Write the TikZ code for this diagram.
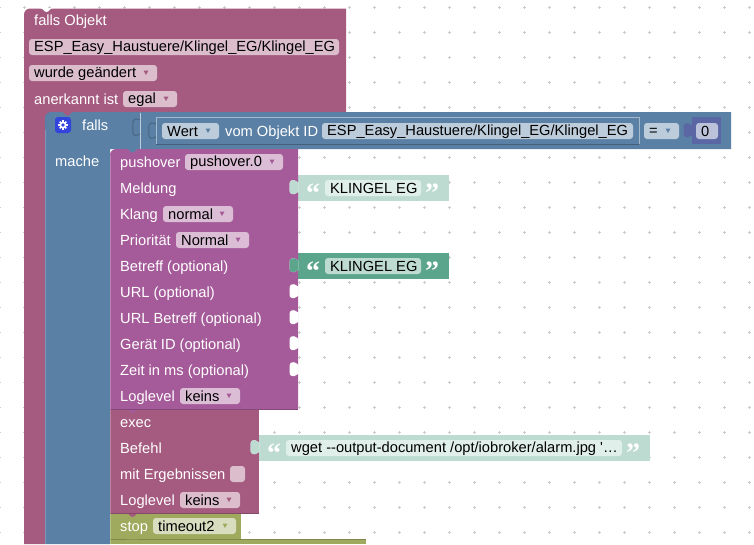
\documentclass[tikz,border=0pt]{standalone}
\usepackage{fontspec}
\setmainfont{Liberation Sans}
\newfontfamily\quotefont{Liberation Serif}
\newfontfamily\plainfont{Liberation Sans}
\definecolor{triggerred}{HTML}{A55B80}
\definecolor{ifblue}{HTML}{5B80A5}
\definecolor{numpurple}{HTML}{5B67A5}
\definecolor{pushpurple}{HTML}{A55B99}
\definecolor{stopolive}{HTML}{A0AA5E}
\definecolor{textgreen}{HTML}{5BA58C}
\definecolor{textpale}{HTML}{BDDBD1}
\definecolor{gridgray}{HTML}{CCCCCC}
\definecolor{gearblue}{HTML}{3344DD}
\tikzset{
    blocktext/.style={anchor=base west,inner sep=0,text=white,font=\fontsize{14.67}{16}\selectfont},
    fieldtext/.style={anchor=west,inner sep=0,text=black,font=\fontsize{14.67}{16}\selectfont},
    quotemark/.style={inner sep=0,text=white,font=\quotefont\bfseries\fontsize{28}{28}\selectfont},
}
% puzzle tab of a value block, also used white for an empty input
\newcommand\tabfill[3]{
    \fill[#3] (#1+0.5,#2-5.3) .. controls (#1-1,#2-5.3) and (#1-2,#2-7.8) .. (#1-4,#2-7.8)
        .. controls (#1-8.5,#2-7.8) and (#1-8.5,#2-6) .. (#1-8.5,#2-0.8)
        .. controls (#1-8.5,#2+4.4) and (#1-8.5,#2+6.2) .. (#1-4,#2+6.2)
        .. controls (#1-2,#2+6.2) and (#1-1,#2+3.7) .. (#1+0.5,#2+3.7) -- cycle;
}
% dent in the top edge of a statement, x is its left end
\newcommand\notchdent[3]{
    \fill[#3] (#1,#2) .. controls (#1+3,#2) and (#1+4,#2+4) .. (#1+6.5,#2+4)
        .. controls (#1+9,#2+4) and (#1+10,#2) .. (#1+13,#2) -- cycle;
}
% name, left, right, centre, colour, text
\newcommand\fieldbox[6]{
    \node[fill=#5,rounded corners=3,minimum height=16,inner sep=0,minimum width={(#3-(#2))*1pt}] (#1) at ({(#2+#3)/2},#4) {};
    \node[fieldtext] (#1text) at (#2+5,#4+0.6) {#6};
}
\newcommand\dropmark[3]{
    \fill[#3] (#1-2.5,#2-2.5) -- (#1+2.5,#2-2.5) -- (#1,#2+2) -- cycle;
}
\begin{document}
\begin{tikzpicture}[x=1pt,y=-1pt]
    \useasboundingbox (0,0) rectangle (754,544);
    \fill[white] (0,0) rectangle (754,544);
    \foreach \gx in {-1,24,...,749}
        \foreach \gy in {7,32,...,532} {
            \draw[gridgray,line width=0.8] (\gx-1.5,\gy) -- (\gx+1.5,\gy);
            \draw[gridgray,line width=0.8] (\gx,\gy-1.5) -- (\gx,\gy+1.5);
        }

    % value blocks on the right
    \fill[textpale] (298,175) rectangle (449,201);
    \fill[textgreen] (298,253) rectangle (449,279);
    \fill[textpale] (259,435) rectangle (650,461);

    % outer block
    \fill[triggerred,rounded corners=6] (24,30) -- (24,8.5) -- (100,8.5) [sharp corners] -- (346,8.5)
        -- (346,120) -- (45,120) -- (45,544) -- (24,544) -- cycle;
    \notchdent{40}{8}{white}

    % if block
    \fill[ifblue,rounded corners=6] (45,130) -- (45,112) -- (100,112) [sharp corners] -- (731,112)
        -- (731,149) -- (110,149) -- (110,544) -- (45,544) -- cycle;
    \notchdent{61}{111.5}{triggerred}
    \draw[white,opacity=0.6] (140,112.5) -- (140,149);
    \draw[white,opacity=0.2] (45.5,130) -- (45.5,544);
    \draw[white,opacity=0.45] (156,144) -- (156,117) -- (639,117) -- (639,144);
    \draw[black,opacity=0.25] (156,144) -- (639,144);
    \draw[ifblue!80!black,line width=1] (140,120) .. controls (131,116) and (133,124) .. (133,128)
        .. controls (133,132) and (131,138) .. (140,134);
    \draw[ifblue!80!black,line width=1] (156,124) .. controls (147,120) and (149,128) .. (149,131)
        .. controls (149,135) and (147,141) .. (156,137);
    \fill[numpurple] (692,117) rectangle (721,144);
    \tabfill{692}{131}{numpurple}

    % statements
    \fill[pushpurple,rounded corners=6] (110,170) -- (110,149) -- (170,149) [sharp corners] -- (298,149)
        -- (298,409) -- (110,409) -- cycle;
    \notchdent{126}{148.5}{ifblue}
    \fill[triggerred] (110,409) rectangle (259,513);
    \notchdent{126}{409}{pushpurple}
    \fill[stopolive] (110,513) rectangle (241,539);
    \notchdent{126}{513}{triggerred}
    \fill[stopolive] (110,539) rectangle (366,544);
    \draw[stopolive!80!black,line width=0.6] (110,539.2) -- (366,539.2);
    \notchdent{126}{539.5}{stopolive}
    \draw[pushpurple!80!black,line width=0.6] (110,408.8) -- (298,408.8);
    \draw[triggerred!80!black,line width=0.6] (110,512.8) -- (259,512.8);
    \fill[white,opacity=0.25] (110,155) rectangle (110.8,544);

    \foreach \sloty in {188,266,292,318,344,370} {
        \tabfill{298}{\sloty}{white}
    }
    \tabfill{259}{448}{white}
    \tabfill{298}{188}{textpale}
    \tabfill{298}{266}{textgreen}
    \tabfill{259}{448}{textpale}

    % texts of the outer block
    \node[blocktext] (fallsobjekt) at (34,25) {falls Objekt};
    \fieldbox{espfield}{29}{339}{47}{triggerred!40!white}{ESP\_Easy\_Haustuere/Klingel\_EG/Klingel\_EG}
    \fieldbox{changefield}{29}{157}{73}{triggerred!40!white}{wurde geändert}
    \dropmark{146}{73}{triggerred}
    \node[blocktext] (anerkannt) at (34,104) {anerkannt ist};
    \fieldbox{egalfield}{123}{177}{99}{triggerred!40!white}{egal}
    \dropmark{166}{99}{triggerred}

    % if row
    \fill[gearblue,rounded corners=3] (55,117) rectangle (71,133);
    \foreach \tooth in {0,45,...,315} {
        \draw[white,line width=1.5] (63,125) ++(\tooth:3) -- ++(\tooth:1.6);
    }
    \draw[white,line width=1.6] (63,125) circle (2.6);
    \node[blocktext] (falls) at (82,130) {falls};
    \node[blocktext] (mache) at (55,166) {mache};
    \fieldbox{wertfield}{162}{219}{131}{ifblue!40!white}{Wert}
    \dropmark{208}{131}{ifblue}
    \node[blocktext] (vomobjekt) at (225,136) {vom Objekt ID};
    \fieldbox{idfield}{322}{633}{131}{ifblue!40!white}{ESP\_Easy\_Haustuere/Klingel\_EG/Klingel\_EG}
    \fieldbox{eqfield}{644}{679}{131}{ifblue!40!white}{=}
    \dropmark{668}{131}{ifblue}
    \fieldbox{zerofield}{696}{718}{131}{numpurple!40!white}{0}

    % pushover
    \node[blocktext] (pushover) at (120,167) {pushover};
    \fieldbox{pushfield}{185}{283}{162}{pushpurple!40!white}{pushover.0}
    \dropmark{272}{162}{pushpurple}
    \node[blocktext] (meldung) at (120,193) {Meldung};
    \node[blocktext] (klang) at (120,219) {Klang};
    \fieldbox{klangfield}{163}{233}{214}{pushpurple!40!white}{normal}
    \dropmark{222}{214}{pushpurple}
    \node[blocktext] (prio) at (120,245) {Priorität};
    \fieldbox{priofield}{176}{249}{240}{pushpurple!40!white}{Normal}
    \dropmark{238}{240}{pushpurple}
    \node[blocktext] (betreff) at (120,271) {Betreff (optional)};
    \node[blocktext] (url) at (120,297) {URL (optional)};
    \node[blocktext] (urlbetreff) at (120,323) {URL Betreff (optional)};
    \node[blocktext] (geraet) at (120,349) {Gerät ID (optional)};
    \node[blocktext] (zeit) at (120,375) {Zeit in ms (optional)};
    \node[blocktext] (logpush) at (120,401) {Loglevel};
    \fieldbox{logpushfield}{180}{240}{396}{pushpurple!40!white}{keins}
    \dropmark{229}{396}{pushpurple}

    % exec
    \node[blocktext] (exec) at (120,427) {exec};
    \node[blocktext] (befehl) at (120,453) {Befehl};
    \node[blocktext] (ergebnis) at (120,479) {mit Ergebnissen};
    \fill[triggerred!40!white,rounded corners=3] (230,466) rectangle (245,482);
    \node[blocktext] (logexec) at (120,505) {Loglevel};
    \fieldbox{logexecfield}{180}{240}{500}{triggerred!40!white}{keins}
    \dropmark{229}{500}{triggerred}

    % stop
    \node[blocktext] (stop) at (120,531) {stop};
    \fieldbox{timeoutfield}{153}{236}{526}{stopolive!40!white}{timeout2}
    \dropmark{225}{526}{stopolive}

    % strings
    \node[quotemark] (open1) at (313,193) {“};
    \fieldbox{klingelone}{325}{421}{188}{textpale!45!white}{KLINGEL EG}
    \node[quotemark] (close1) at (432,193) {”};
    \node[quotemark] (open2) at (313,271) {“};
    \fieldbox{klingeltwo}{325}{421}{266}{textgreen!40!white}{KLINGEL EG}
    \node[quotemark] (close2) at (432,271) {”};
    \node[quotemark] (open3) at (274,453) {“};
    \fieldbox{wgetfield}{286}{622}{448}{textpale!45!white}{\plainfont wget --output-document /opt/iobroker/alarm.jpg '…}
    \node[quotemark] (close3) at (633,453) {”};
\end{tikzpicture}
\end{document}
